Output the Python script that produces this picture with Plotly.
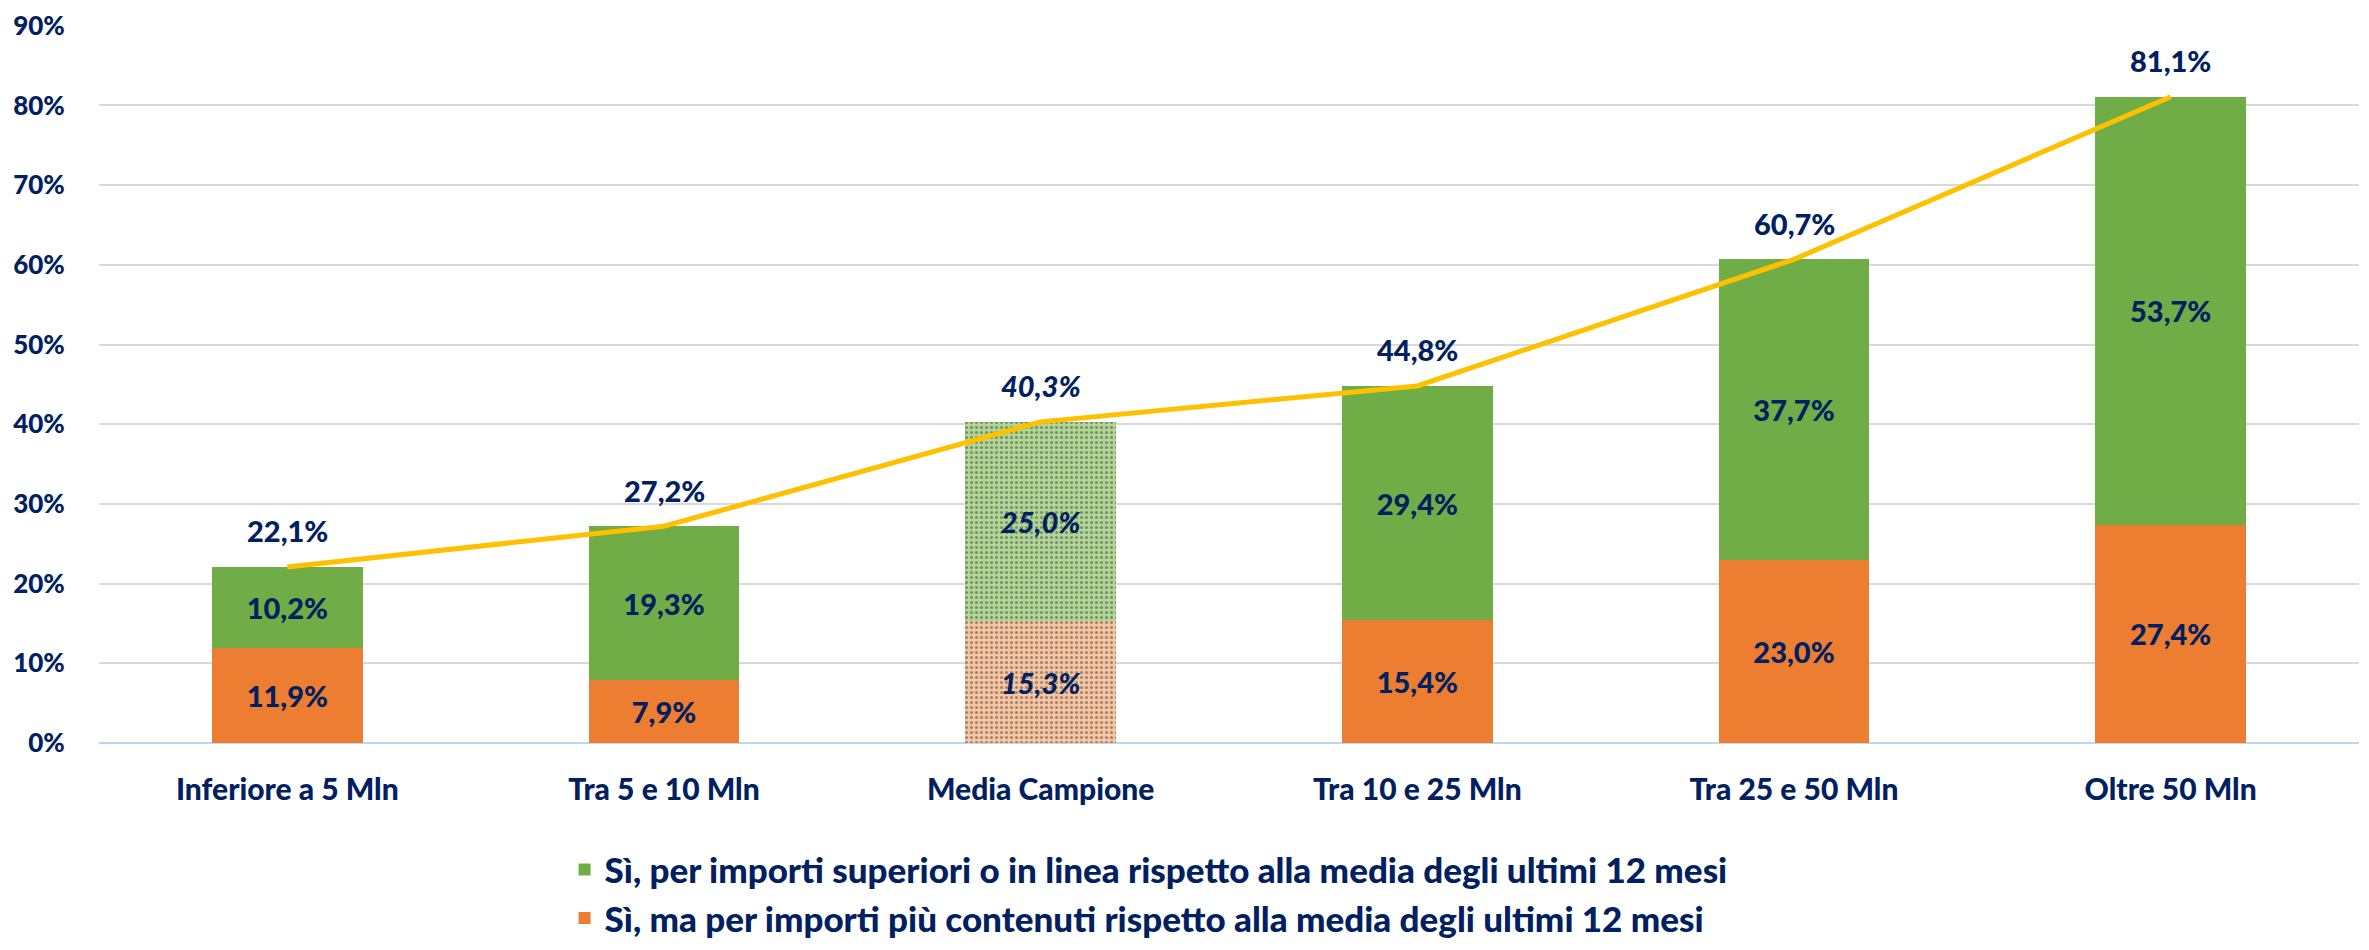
import plotly.graph_objects as go

categories = ["Inferiore a 5 Mln", "Tra 5 e 10 Mln", "Media Campione",
              "Tra 10 e 25 Mln", "Tra 25 e 50 Mln", "Oltre 50 Mln"]
contenuti = [11.9, 7.9, 15.3, 15.4, 23.0, 27.4]
superiori = [10.2, 19.3, 25.0, 29.4, 37.7, 53.7]
totale = [22.1, 27.2, 40.3, 44.8, 60.7, 81.1]
y_ticks = [0, 10, 20, 30, 40, 50, 60, 70, 80, 90]

name_sup = "Sì, per importi superiori o in linea rispetto alla media degli ultimi 12 mesi"
name_cont = "Sì, ma per importi più contenuti rispetto alla media degli ultimi 12 mesi"

NAVY = "#002060"
GREEN = "#70AD47"
ORANGE = "#ED7D31"
FONT = "Lato"
media_idx = categories.index("Media Campione")


def fmt(v, i):
    s = f"{v:.1f}".replace(".", ",") + "%"
    return f"<i>{s}</i>" if i == media_idx else s


def bar_style(base, light):
    colors = [light if i == media_idx else base for i in range(len(categories))]
    shapes = ["." if i == media_idx else "" for i in range(len(categories))]
    return dict(
        color=colors,
        line=dict(width=0),
        pattern=dict(shape=shapes, fgcolor=base, fillmode="overlay",
                     size=5, solidity=0.3),
    )


label_font = dict(family=FONT, size=29, color=NAVY, weight=900)

fig = go.Figure()

fig.add_trace(go.Bar(
    x=categories, y=contenuti, name=name_cont, legendrank=2,
    marker=bar_style(ORANGE, "#F9C4A0"),
    text=[fmt(v, i) for i, v in enumerate(contenuti)],
    textposition="inside", insidetextanchor="middle",
    textfont=label_font, width=0.4,
))
fig.add_trace(go.Bar(
    x=categories, y=superiori, name=name_sup, legendrank=1,
    marker=bar_style(GREEN, "#B0D894"),
    text=[fmt(v, i) for i, v in enumerate(superiori)],
    textposition="inside", insidetextanchor="middle",
    textfont=label_font, width=0.4,
))
fig.add_trace(go.Scatter(
    x=categories, y=totale, mode="lines",
    line=dict(color="#FFC000", width=5),
    showlegend=False,
))

for i, (c, v) in enumerate(zip(categories, totale)):
    fig.add_annotation(
        x=c, y=v, text=fmt(v, i), showarrow=False, yshift=36,
        font=label_font,
    )

# page body adds an 8px margin, so the figure is a bit smaller than the window
fig.update_layout(
    width=2353, height=934,
    barmode="stack",
    plot_bgcolor="white", paper_bgcolor="white",
    margin=dict(l=91, r=2, t=17, b=199, autoexpand=False),
    font=dict(family=FONT, color=NAVY, weight=900),
    legend=dict(
        orientation="v", traceorder="normal",
        x=0.206, y=0.109, xanchor="left", yanchor="top", yref="container",
        font=dict(family=FONT, size=35, color=NAVY, weight=900),
        tracegroupgap=28, itemsizing="constant",
    ),
)

fig.update_xaxes(
    showgrid=False, showline=False, automargin=False,
    ticks="outside", ticklen=20, tickcolor="rgba(0,0,0,0)",
    tickfont=dict(family=FONT, size=30, color=NAVY, weight=900),
)
fig.update_yaxes(
    range=[0, 90.1], tickmode="array", tickvals=y_ticks,
    ticktext=[f"{t}%" for t in y_ticks], automargin=False,
    ticklabeloverflow="allow",
    showgrid=True, gridcolor="#D9D9D9", gridwidth=2,
    zeroline=True, zerolinecolor="#BDD7EE", zerolinewidth=2,
    ticks="outside", ticklen=28, tickcolor="rgba(0,0,0,0)",
    tickfont=dict(family=FONT, size=26, color=NAVY, weight=900),
)

fig.write_html("out.html")
